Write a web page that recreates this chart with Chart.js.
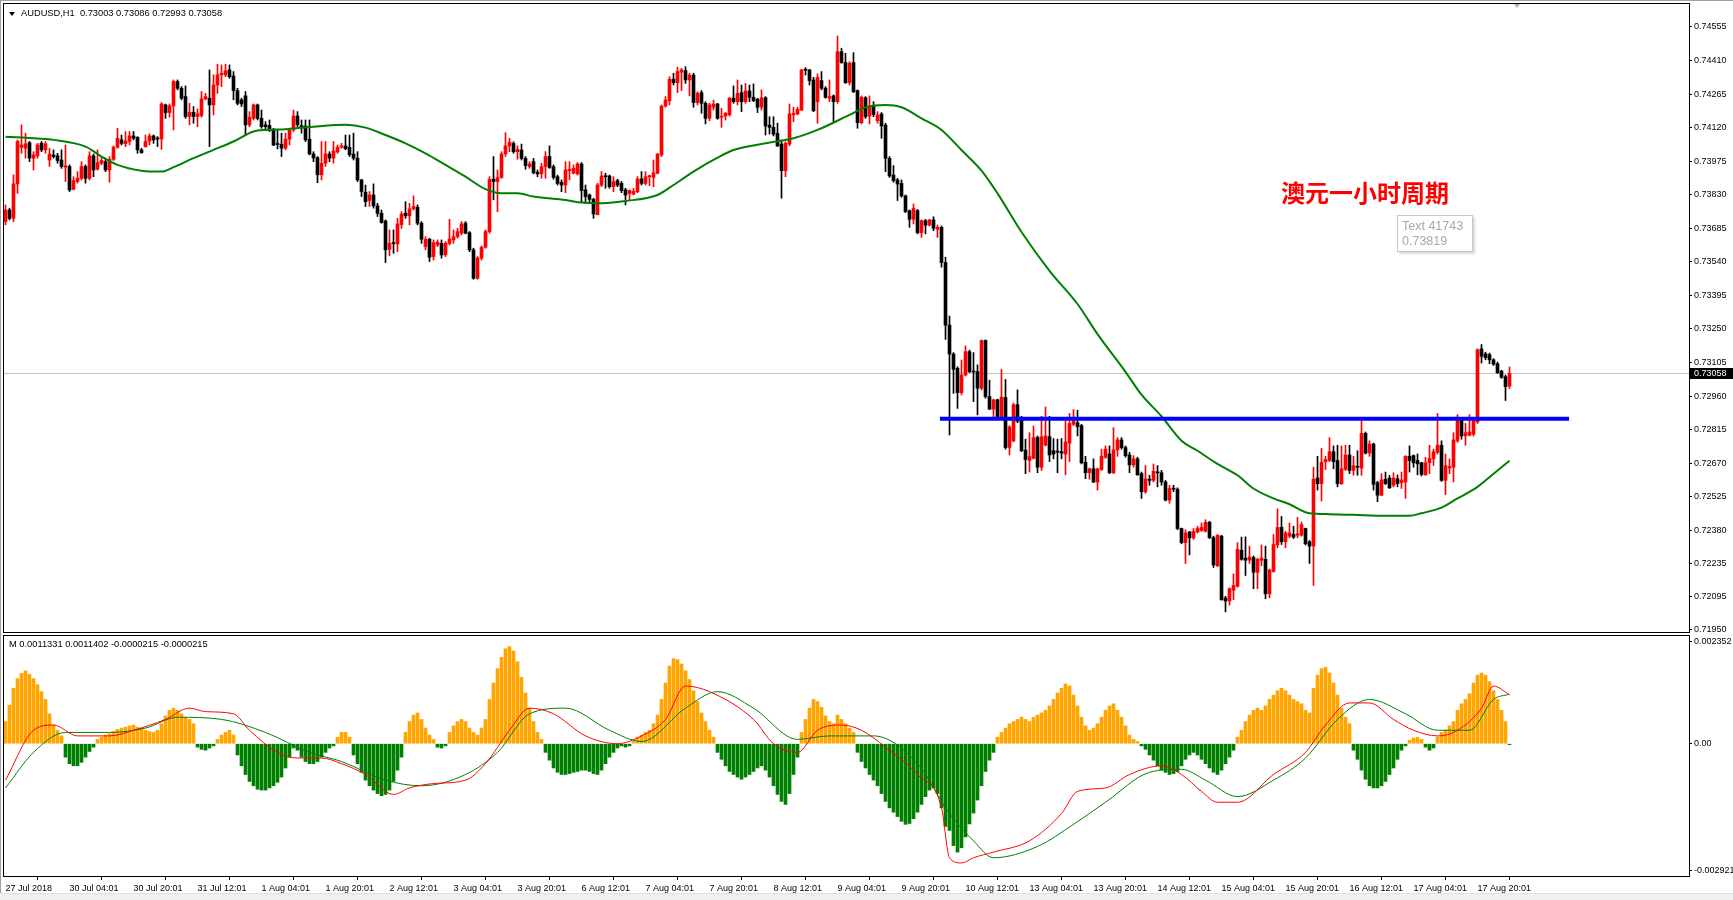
<!DOCTYPE html>
<html lang="zh">
<head>
  <meta charset="UTF-8">
  <title>AUDUSD,H1</title>
  <script src="https://cdn.jsdelivr.net/npm/chart.js@4"></script>
  <style>
    html, body { margin: 0; padding: 0; background: #fff; }
    #wrap { position: relative; width: 1733px; height: 900px; overflow: hidden; background: #fff; }
    canvas { position: absolute; left: 0; }
    #main { top: 0; }
    #ind { top: 633px; }
    .txt { position: absolute; font: 9.3px "Liberation Sans", Arial, sans-serif; color: #000; white-space: pre; line-height: 10px; }
    #foot { position: absolute; left: 0; top: 893px; width: 1733px; height: 7px; background: #f0f0f0; border-top: 1px solid #e0e0e0; }
    #edgeTop { position: absolute; left: 0; top: 0; width: 1733px; height: 1px; background: #a0a0a0; }
    #edgeLeft { position: absolute; left: 0; top: 0; width: 1px; height: 893px; background: #a0a0a0; }
    .tri { position: absolute; width: 0; height: 0; border-left: 3px solid transparent; border-right: 3px solid transparent; }
    #title { position: absolute; left: 1281px; top: 178px; font: bold 24px "Noto Sans CJK SC", sans-serif; color: #ff0000; line-height: 28px; }
    #tbox { position: absolute; left: 1397px; top: 215px; width: 70px; height: 32px; border: 1px solid #c8c8c8; background: #fff;
            box-shadow: 2px 2px 2px rgba(0,0,0,0.15); font: 12.5px "Liberation Sans", Arial, sans-serif; color: #a8a8a8;
            line-height: 15px; padding: 3px 0 0 4px; }
  </style>
</head>
<body>
<div id="wrap">
  <canvas id="main" width="1733" height="633"></canvas>
  <canvas id="ind" width="1733" height="260"></canvas>
  <div id="edgeTop"></div>
  <div id="edgeLeft"></div>
  <div id="foot"></div>
  <div class="tri" style="left:9px;top:12px;border-top:4px solid #000;"></div>
  <div class="txt" style="left:21px;top:8px;">AUDUSD,H1  0.73003 0.73086 0.72993 0.73058</div>
  <div class="tri" style="left:1514px;top:4px;border-top:4px solid #b0b0b0;"></div>
  <div class="txt" style="left:9px;top:639px;">M 0.0011331 0.0011402 -0.0000215 -0.0000215</div>
  <div id="title">澳元一小时周期</div>
  <div id="tbox">Text 41743<br>0.73819</div>
</div>

<script>
// AUDUSD H1 candles, one value per bar (27 Jul 12:00 onwards)
const openP = [
  0.73714,0.73764,0.73728,0.73877,0.74035,0.74031,0.74055,0.73988,0.73998,0.74052,
  0.74024,0.73980,0.74002,0.73998,0.73980,0.73949,0.73952,0.73854,0.73887,0.73901,
  0.73952,0.73901,0.73998,0.73940,0.73966,0.73973,0.73937,0.73983,0.74035,0.74067,
  0.74050,0.74060,0.74084,0.74078,0.74024,0.74038,0.74062,0.74084,0.74073,0.74071,
  0.74218,0.74185,0.74214,0.74319,0.74290,0.74254,0.74168,0.74186,0.74168,0.74172,
  0.74244,0.74247,0.74218,0.74304,0.74348,0.74348,0.74369,0.74343,0.74280,0.74240,
  0.74257,0.74132,0.74160,0.74218,0.74160,0.74132,0.74129,0.74110,0.74048,0.74048,
  0.74031,0.74070,0.74110,0.74170,0.74127,0.74127,0.74070,0.74006,0.73990,0.73916,
  0.73966,0.74006,0.73988,0.74015,0.74035,0.74041,0.74035,0.74006,0.73988,0.73894,
  0.73841,0.73805,0.73829,0.73782,0.73750,0.73717,0.73594,0.73620,0.73617,0.73701,
  0.73750,0.73739,0.73769,0.73776,0.73707,0.73606,0.73638,0.73563,0.73613,0.73620,
  0.73570,0.73620,0.73635,0.73649,0.73664,0.73707,0.73666,0.73592,0.73469,0.73556,
  0.73603,0.73671,0.73897,0.73887,0.73905,0.74006,0.74041,0.74052,0.74016,0.74023,
  0.73987,0.73951,0.73973,0.73927,0.73920,0.73951,0.73995,0.73951,0.73908,0.73884,
  0.73872,0.73934,0.73923,0.73920,0.73963,0.73851,0.73829,0.73810,0.73744,0.73872,
  0.73911,0.73911,0.73865,0.73891,0.73879,0.73851,0.73836,0.73833,0.73843,0.73898,
  0.73879,0.73908,0.73905,0.73923,0.74002,0.74213,0.74236,0.74329,0.74314,0.74359,
  0.74366,0.74326,0.74347,0.74228,0.74271,0.74225,0.74160,0.74208,0.74222,0.74165,
  0.74170,0.74175,0.74247,0.74232,0.74271,0.74232,0.74278,0.74251,0.74242,0.74208,
  0.74249,0.74131,0.74121,0.74095,0.74049,0.73934,0.74049,0.74175,0.74179,0.74196,
  0.74369,0.74369,0.74326,0.74232,0.74323,0.74290,0.74247,0.74257,0.74232,0.74448,
  0.74401,0.74314,0.74401,0.74280,0.74141,0.74249,0.74170,0.74213,0.74150,0.74179,
  0.74131,0.73987,0.73915,0.73894,0.73879,0.73825,0.73761,0.73724,0.73761,0.73666,
  0.73718,0.73699,0.73721,0.73681,0.73689,0.73537,0.73267,0.73142,0.73080,0.72975,
  0.73051,0.73152,0.73066,0.73066,0.72994,0.73200,0.72958,0.72904,0.72944,0.72866,
  0.72954,0.72738,0.72767,0.72923,0.72866,0.72727,0.72682,0.72691,0.72781,0.72653,
  0.72748,0.72785,0.72724,0.72720,0.72720,0.72710,0.72757,0.72838,0.72845,0.72833,
  0.72674,0.72629,0.72646,0.72589,0.72643,0.72696,0.72710,0.72629,0.72728,0.72771,
  0.72738,0.72706,0.72663,0.72689,0.72625,0.72547,0.72601,0.72596,0.72632,0.72629,
  0.72589,0.72511,0.72561,0.72558,0.72388,0.72327,0.72373,0.72348,0.72373,0.72379,
  0.72376,0.72415,0.72348,0.72227,0.72355,0.72088,0.72075,0.72121,0.72138,0.72294,
  0.72260,0.72251,0.72263,0.72199,0.72251,0.72255,0.72106,0.72203,0.72317,0.72393,
  0.72331,0.72355,0.72362,0.72359,0.72359,0.72388,0.72331,0.72312,0.72606,0.72582,
  0.72677,0.72682,0.72720,0.72682,0.72582,0.72643,0.72706,0.72639,0.72655,0.72649,
  0.72799,0.72714,0.72753,0.72586,0.72532,0.72601,0.72606,0.72575,0.72603,0.72586,
  0.72589,0.72700,0.72703,0.72682,0.72672,0.72620,0.72672,0.72689,0.72717,0.72748,
  0.72596,0.72649,0.72653,0.72767,0.72862,0.72788,0.72791,0.72795,0.72848,0.73164,
  0.73143,0.73139,0.73117,0.73100,0.73068,0.73044,0.73003
];
const highP = [
  0.73786,0.73772,0.73916,0.74067,0.74132,0.74096,0.74060,0.74016,0.74052,0.74060,
  0.74060,0.74031,0.74024,0.74009,0.74024,0.74045,0.73959,0.73908,0.73930,0.73973,
  0.73959,0.74016,0.74006,0.74024,0.73995,0.73988,0.73995,0.74041,0.74117,0.74088,
  0.74103,0.74103,0.74103,0.74081,0.74031,0.74088,0.74093,0.74088,0.74081,0.74228,
  0.74222,0.74222,0.74326,0.74326,0.74297,0.74300,0.74225,0.74211,0.74201,0.74276,
  0.74268,0.74369,0.74348,0.74394,0.74391,0.74394,0.74391,0.74362,0.74290,0.74247,
  0.74276,0.74189,0.74222,0.74222,0.74196,0.74146,0.74153,0.74117,0.74110,0.74096,
  0.74096,0.74117,0.74196,0.74189,0.74153,0.74153,0.74153,0.74016,0.73995,0.74060,
  0.74060,0.74016,0.74060,0.74045,0.74052,0.74088,0.74088,0.74096,0.74016,0.73897,
  0.73872,0.73844,0.73877,0.73793,0.73764,0.73721,0.73678,0.73678,0.73728,0.73757,
  0.73800,0.73793,0.73825,0.73786,0.73714,0.73649,0.73642,0.73635,0.73635,0.73635,
  0.73628,0.73724,0.73678,0.73685,0.73714,0.73714,0.73671,0.73599,0.73563,0.73609,
  0.73678,0.73908,0.73995,0.73937,0.74016,0.74098,0.74074,0.74059,0.74041,0.74049,
  0.73995,0.73973,0.73987,0.73937,0.73966,0.74016,0.74041,0.73959,0.73915,0.73894,
  0.73973,0.73973,0.73959,0.73969,0.73969,0.73872,0.73833,0.73815,0.73879,0.73930,
  0.73923,0.73915,0.73908,0.73897,0.73887,0.73858,0.73851,0.73858,0.73908,0.73930,
  0.73930,0.73915,0.73980,0.74009,0.74218,0.74254,0.74340,0.74355,0.74381,0.74376,
  0.74383,0.74355,0.74355,0.74275,0.74280,0.74232,0.74225,0.74239,0.74225,0.74203,
  0.74185,0.74251,0.74300,0.74326,0.74304,0.74311,0.74304,0.74309,0.74247,0.74283,
  0.74254,0.74167,0.74167,0.74139,0.74067,0.74059,0.74222,0.74208,0.74208,0.74372,
  0.74379,0.74372,0.74337,0.74352,0.74362,0.74297,0.74326,0.74261,0.74516,0.74463,
  0.74441,0.74405,0.74444,0.74283,0.74257,0.74254,0.74257,0.74232,0.74189,0.74185,
  0.74139,0.73995,0.73956,0.73901,0.73894,0.73829,0.73764,0.73790,0.73767,0.73721,
  0.73724,0.73724,0.73735,0.73699,0.73695,0.73560,0.73306,0.73148,0.73087,0.73116,
  0.73177,0.73159,0.73148,0.73095,0.73203,0.73203,0.73029,0.72947,0.72947,0.73075,
  0.73032,0.72833,0.72930,0.72987,0.72873,0.72774,0.72802,0.72831,0.72788,0.72873,
  0.72913,0.72873,0.72777,0.72774,0.72777,0.72866,0.72885,0.72902,0.72899,0.72838,
  0.72700,0.72649,0.72689,0.72649,0.72731,0.72745,0.72745,0.72824,0.72781,0.72781,
  0.72745,0.72717,0.72703,0.72696,0.72632,0.72660,0.72618,0.72667,0.72660,0.72639,
  0.72596,0.72575,0.72575,0.72564,0.72390,0.72383,0.72376,0.72388,0.72398,0.72412,
  0.72426,0.72419,0.72355,0.72362,0.72359,0.72095,0.72132,0.72192,0.72327,0.72351,
  0.72352,0.72312,0.72270,0.72260,0.72317,0.72312,0.72213,0.72362,0.72473,0.72440,
  0.72376,0.72412,0.72398,0.72436,0.72416,0.72390,0.72336,0.72653,0.72700,0.72734,
  0.72700,0.72781,0.72745,0.72748,0.72745,0.72748,0.72748,0.72700,0.72724,0.72862,
  0.72805,0.72767,0.72757,0.72592,0.72625,0.72632,0.72618,0.72629,0.72620,0.72632,
  0.72703,0.72745,0.72706,0.72710,0.72674,0.72696,0.72748,0.72731,0.72885,0.72767,
  0.72710,0.72689,0.72802,0.72880,0.72866,0.72842,0.72880,0.72859,0.73164,0.73183,
  0.73150,0.73146,0.73122,0.73107,0.73072,0.73051,0.73086
];
const lowP = [
  0.73700,0.73721,0.73714,0.73836,0.74009,0.73988,0.73973,0.73937,0.73988,0.74016,
  0.74009,0.73952,0.73988,0.73966,0.73944,0.73887,0.73844,0.73851,0.73880,0.73894,
  0.73880,0.73894,0.73908,0.73937,0.73959,0.73930,0.73884,0.73978,0.74031,0.74045,
  0.74038,0.74045,0.74067,0.74009,0.74009,0.74035,0.74045,0.74052,0.74038,0.74026,
  0.74160,0.74165,0.74110,0.74283,0.74240,0.74160,0.74132,0.74139,0.74124,0.74165,
  0.74240,0.74038,0.74175,0.74268,0.74297,0.74340,0.74333,0.74240,0.74218,0.74211,
  0.74088,0.74124,0.74153,0.74153,0.74117,0.74110,0.74103,0.74042,0.74028,0.73995,
  0.74024,0.74045,0.74103,0.74122,0.74096,0.74060,0.74002,0.73973,0.73882,0.73894,
  0.73952,0.73973,0.73966,0.74009,0.74031,0.74024,0.73995,0.73980,0.73887,0.73822,
  0.73779,0.73779,0.73772,0.73736,0.73707,0.73537,0.73566,0.73577,0.73584,0.73685,
  0.73728,0.73700,0.73764,0.73700,0.73620,0.73592,0.73541,0.73548,0.73606,0.73556,
  0.73563,0.73613,0.73620,0.73642,0.73656,0.73661,0.73584,0.73465,0.73465,0.73548,
  0.73599,0.73664,0.73808,0.73757,0.73901,0.73995,0.74016,0.74009,0.73983,0.73980,
  0.73940,0.73944,0.73920,0.73908,0.73901,0.73901,0.73944,0.73897,0.73872,0.73843,
  0.73839,0.73894,0.73920,0.73915,0.73800,0.73793,0.73796,0.73728,0.73743,0.73865,
  0.73858,0.73858,0.73843,0.73865,0.73839,0.73786,0.73807,0.73829,0.73839,0.73872,
  0.73872,0.73869,0.73865,0.73920,0.73995,0.74208,0.74218,0.74304,0.74271,0.74280,
  0.74311,0.74257,0.74208,0.74218,0.74182,0.74136,0.74150,0.74196,0.74156,0.74121,
  0.74153,0.74170,0.74225,0.74218,0.74189,0.74225,0.74232,0.74232,0.74185,0.74196,
  0.74088,0.74092,0.74084,0.74038,0.73815,0.73908,0.74041,0.74146,0.74175,0.74193,
  0.74347,0.74304,0.74189,0.74139,0.74283,0.74247,0.74232,0.74141,0.74225,0.74398,
  0.74311,0.74304,0.74271,0.74117,0.74136,0.74160,0.74136,0.74167,0.74139,0.74074,
  0.73930,0.73905,0.73884,0.73805,0.73819,0.73753,0.73689,0.73704,0.73661,0.73646,
  0.73661,0.73695,0.73675,0.73646,0.73517,0.73205,0.72792,0.72972,0.72907,0.72965,
  0.73047,0.73061,0.72936,0.72879,0.72987,0.72951,0.72902,0.72859,0.72859,0.72859,
  0.72731,0.72706,0.72762,0.72845,0.72720,0.72625,0.72632,0.72689,0.72629,0.72639,
  0.72745,0.72677,0.72689,0.72629,0.72689,0.72620,0.72677,0.72833,0.72788,0.72667,
  0.72603,0.72601,0.72586,0.72554,0.72639,0.72691,0.72625,0.72625,0.72700,0.72731,
  0.72696,0.72629,0.72653,0.72618,0.72518,0.72540,0.72575,0.72589,0.72568,0.72575,
  0.72507,0.72497,0.72547,0.72383,0.72322,0.72237,0.72274,0.72341,0.72369,0.72376,
  0.72373,0.72345,0.72220,0.72223,0.72078,0.72028,0.72057,0.72081,0.72135,0.72251,
  0.72185,0.72237,0.72128,0.72128,0.72227,0.72085,0.72089,0.72199,0.72305,0.72319,
  0.72305,0.72348,0.72345,0.72348,0.72355,0.72317,0.72237,0.72142,0.72554,0.72507,
  0.72643,0.72677,0.72646,0.72568,0.72578,0.72639,0.72625,0.72618,0.72618,0.72618,
  0.72710,0.72700,0.72554,0.72504,0.72530,0.72578,0.72561,0.72568,0.72568,0.72561,
  0.72518,0.72632,0.72653,0.72620,0.72615,0.72618,0.72625,0.72660,0.72710,0.72592,
  0.72535,0.72625,0.72589,0.72760,0.72774,0.72748,0.72788,0.72788,0.72842,0.73103,
  0.73117,0.73100,0.73093,0.73058,0.73037,0.72941,0.72993
];
const closeP = [
  0.73764,0.73728,0.73877,0.74060,0.74045,0.74050,0.73988,0.74002,0.74045,0.74024,
  0.74050,0.74006,0.73995,0.73978,0.73952,0.73955,0.73851,0.73891,0.73901,0.73952,
  0.73901,0.73998,0.73937,0.73969,0.73978,0.73937,0.73983,0.74035,0.74074,0.74052,
  0.74062,0.74084,0.74074,0.74024,0.74012,0.74060,0.74084,0.74067,0.74071,0.74222,
  0.74185,0.74214,0.74319,0.74290,0.74247,0.74168,0.74186,0.74168,0.74179,0.74244,
  0.74254,0.74218,0.74304,0.74348,0.74355,0.74365,0.74340,0.74280,0.74225,0.74222,
  0.74132,0.74165,0.74218,0.74160,0.74124,0.74124,0.74107,0.74045,0.74047,0.74031,
  0.74070,0.74110,0.74170,0.74132,0.74124,0.74067,0.74006,0.73989,0.73916,0.73966,
  0.74006,0.73988,0.74019,0.74035,0.74041,0.74029,0.74003,0.73988,0.73894,0.73844,
  0.73800,0.73829,0.73782,0.73750,0.73710,0.73592,0.73620,0.73619,0.73704,0.73747,
  0.73739,0.73769,0.73779,0.73707,0.73638,0.73638,0.73560,0.73623,0.73625,0.73570,
  0.73620,0.73639,0.73649,0.73671,0.73704,0.73664,0.73592,0.73469,0.73556,0.73603,
  0.73671,0.73897,0.73887,0.73904,0.74006,0.74041,0.74057,0.74016,0.74026,0.73987,
  0.73956,0.73963,0.73925,0.73920,0.73951,0.73995,0.73948,0.73905,0.73879,0.73872,
  0.73937,0.73940,0.73944,0.73963,0.73848,0.73822,0.73810,0.73747,0.73872,0.73911,
  0.73908,0.73865,0.73887,0.73872,0.73848,0.73829,0.73848,0.73845,0.73898,0.73879,
  0.73908,0.73911,0.73925,0.74005,0.74213,0.74239,0.74329,0.74314,0.74362,0.74369,
  0.74326,0.74347,0.74228,0.74268,0.74225,0.74160,0.74218,0.74222,0.74160,0.74167,
  0.74182,0.74247,0.74232,0.74268,0.74232,0.74278,0.74251,0.74237,0.74208,0.74249,
  0.74127,0.74121,0.74092,0.74041,0.73934,0.74052,0.74179,0.74182,0.74199,0.74369,
  0.74368,0.74323,0.74193,0.74337,0.74290,0.74251,0.74254,0.74232,0.74448,0.74401,
  0.74314,0.74398,0.74275,0.74141,0.74251,0.74167,0.74213,0.74177,0.74175,0.74127,
  0.73987,0.73911,0.73891,0.73876,0.73825,0.73757,0.73724,0.73771,0.73666,0.73718,
  0.73699,0.73721,0.73685,0.73689,0.73537,0.73267,0.73142,0.73076,0.72975,0.73051,
  0.73152,0.73066,0.73064,0.72994,0.73200,0.72958,0.72904,0.72944,0.72866,0.72956,
  0.72738,0.72826,0.72923,0.72852,0.72724,0.72686,0.72699,0.72781,0.72653,0.72785,
  0.72788,0.72706,0.72710,0.72718,0.72714,0.72762,0.72842,0.72862,0.72828,0.72672,
  0.72629,0.72646,0.72589,0.72646,0.72700,0.72731,0.72629,0.72728,0.72771,0.72738,
  0.72703,0.72663,0.72689,0.72620,0.72547,0.72603,0.72596,0.72635,0.72629,0.72589,
  0.72511,0.72561,0.72558,0.72388,0.72327,0.72369,0.72348,0.72376,0.72388,0.72393,
  0.72415,0.72348,0.72231,0.72359,0.72081,0.72075,0.72128,0.72142,0.72298,0.72255,
  0.72251,0.72265,0.72199,0.72255,0.72260,0.72106,0.72209,0.72319,0.72393,0.72331,
  0.72369,0.72369,0.72351,0.72365,0.72405,0.72322,0.72312,0.72601,0.72582,0.72674,
  0.72686,0.72720,0.72677,0.72582,0.72646,0.72706,0.72639,0.72660,0.72653,0.72799,
  0.72714,0.72753,0.72579,0.72532,0.72598,0.72582,0.72564,0.72606,0.72582,0.72598,
  0.72700,0.72682,0.72672,0.72667,0.72622,0.72672,0.72691,0.72720,0.72748,0.72596,
  0.72660,0.72656,0.72771,0.72859,0.72788,0.72802,0.72805,0.72852,0.73160,0.73132,
  0.73126,0.73117,0.73098,0.73061,0.73041,0.73001,0.73058
];

// moving average (bar index, price)
const maIdx = [0,8,12,20,24,28,34,39,42,47,52,57,62,65,70,77,85,90,95,100,105,110,115,120,124,128,132,140,144,148,
  155,163,167,172,178,182,190,197,203,211,215,220,224,229,234,239,244,248,254,261,268,273,280,284,289,294,298,303,308,312,
  317,321,326,331,337,345,351,354,359,363,368,373,376];
const maVal = [0.74081,0.74073,0.74067,0.74038,0.73995,0.73959,0.73934,0.73930,0.73949,0.73988,
  0.74024,0.74060,0.74103,0.74110,0.74113,0.74124,0.74132,0.74120,0.74088,0.74052,
  0.74009,0.73959,0.73908,0.73854,0.73836,0.73836,0.73822,0.73807,0.73796,0.73793,
  0.73803,0.73829,0.73872,0.73930,0.73990,0.74023,0.74052,0.74074,0.74110,0.74175,
  0.74208,0.74218,0.74208,0.74160,0.74110,0.74023,0.73934,0.73836,0.73669,0.73501,
  0.73358,0.73228,0.73065,0.72966,0.72873,0.72767,0.72724,0.72667,0.72618,0.72561,
  0.72518,0.72493,0.72454,0.72450,0.72447,0.72443,0.72443,0.72454,0.72478,0.72518,
  0.72568,0.72639,0.72681];

// blue support line
const levelPrice = 0.72862;
const levelFrom = 233.6, levelTo = 390.9;

// lower window "M": histogram per bar + two signal lines
const momHist = [
  0.00051,0.00089,0.00128,0.00150,0.00162,0.00168,0.00160,0.00150,0.00136,0.00120,
  0.00102,0.00069,0.00043,0.00031,0.00018,-0.00031,-0.00046,-0.00051,-0.00051,-0.00043,
  -0.00031,-0.00018,-0.00008,0.00010,0.00015,0.00020,0.00023,0.00028,0.00033,0.00036,
  0.00038,0.00041,0.00043,0.00038,0.00036,0.00031,0.00028,0.00026,0.00031,0.00046,
  0.00064,0.00077,0.00082,0.00077,0.00069,0.00061,0.00056,0.00046,-0.00008,-0.00013,
  -0.00015,-0.00010,-0.00005,0.00010,0.00020,0.00026,0.00031,0.00020,-0.00026,-0.00051,
  -0.00071,-0.00087,-0.00097,-0.00105,-0.00107,-0.00107,-0.00102,-0.00097,-0.00089,-0.00077,
  -0.00056,-0.00031,-0.00010,-0.00015,-0.00031,-0.00041,-0.00046,-0.00046,-0.00041,-0.00031,
  -0.00020,-0.00010,-0.00005,0.00015,0.00026,0.00026,0.00015,-0.00026,-0.00046,-0.00066,
  -0.00084,-0.00097,-0.00107,-0.00115,-0.00120,-0.00117,-0.00107,-0.00087,-0.00061,-0.00031,
  0.00026,0.00051,0.00066,0.00071,0.00056,0.00036,0.00020,0.00010,-0.00008,-0.00010,
  -0.00005,0.00026,0.00041,0.00051,0.00056,0.00051,0.00036,0.00026,0.00020,0.00036,
  0.00056,0.00102,0.00140,0.00173,0.00199,0.00219,0.00224,0.00214,0.00189,0.00153,
  0.00117,0.00082,0.00051,0.00026,0.00010,-0.00020,-0.00038,-0.00056,-0.00066,-0.00071,
  -0.00071,-0.00069,-0.00066,-0.00064,-0.00061,-0.00061,-0.00064,-0.00069,-0.00071,-0.00061,
  -0.00046,-0.00031,-0.00020,-0.00010,-0.00005,-0.00008,-0.00005,0.00005,0.00015,0.00020,
  0.00026,0.00031,0.00046,0.00066,0.00102,0.00140,0.00179,0.00196,0.00194,0.00184,
  0.00168,0.00148,0.00122,0.00097,0.00071,0.00051,0.00031,0.00015,-0.00020,-0.00036,
  -0.00051,-0.00064,-0.00071,-0.00077,-0.00082,-0.00077,-0.00071,-0.00064,-0.00056,-0.00051,
  -0.00061,-0.00077,-0.00097,-0.00117,-0.00133,-0.00140,-0.00115,-0.00071,-0.00031,0.00026,
  0.00056,0.00082,0.00102,0.00097,0.00084,0.00064,0.00051,0.00046,0.00066,0.00056,
  0.00046,0.00036,0.00026,-0.00020,-0.00041,-0.00056,-0.00071,-0.00084,-0.00097,-0.00115,
  -0.00133,-0.00148,-0.00158,-0.00168,-0.00179,-0.00186,-0.00184,-0.00173,-0.00158,-0.00140,
  -0.00122,-0.00107,-0.00102,-0.00115,-0.00148,-0.00191,-0.00200,-0.00235,-0.00250,-0.00240,
  -0.00215,-0.00185,-0.00160,-0.00130,-0.00097,-0.00064,-0.00038,-0.00020,0.00015,0.00026,
  0.00036,0.00046,0.00051,0.00056,0.00061,0.00056,0.00051,0.00061,0.00066,0.00071,
  0.00077,0.00087,0.00102,0.00117,0.00128,0.00138,0.00133,0.00112,0.00087,0.00061,
  0.00041,0.00031,0.00036,0.00046,0.00061,0.00077,0.00087,0.00092,0.00077,0.00061,
  0.00041,0.00020,0.00010,0.00005,-0.00005,-0.00013,-0.00026,-0.00038,-0.00051,-0.00061,
  -0.00066,-0.00071,-0.00069,-0.00064,-0.00051,-0.00036,-0.00026,-0.00020,-0.00026,-0.00036,
  -0.00046,-0.00056,-0.00066,-0.00071,-0.00061,-0.00046,-0.00031,-0.00015,0.00015,0.00031,
  0.00051,0.00066,0.00077,0.00082,0.00077,0.00087,0.00102,0.00112,0.00122,0.00128,
  0.00122,0.00112,0.00102,0.00097,0.00092,0.00077,0.00071,0.00128,0.00158,0.00173,
  0.00176,0.00163,0.00140,0.00112,0.00082,0.00061,0.00046,-0.00015,-0.00036,-0.00061,
  -0.00082,-0.00097,-0.00102,-0.00102,-0.00097,-0.00087,-0.00071,-0.00056,-0.00036,-0.00015,
  -0.00005,0.00008,0.00013,0.00015,0.00010,-0.00008,-0.00015,-0.00010,0.00015,0.00026,
  0.00031,0.00041,0.00051,0.00077,0.00092,0.00102,0.00115,0.00140,0.00158,0.00163,
  0.00158,0.00143,0.00122,0.00102,0.00077,0.00051,-0.0000215
];
const redIdx = [0,7,12,18,26,32,40,46,50,57,61,68,73,79,84,90,97,101,107,115,120,126,131,137,145,153,159,165,170,176,
  187,192,198,203,209,214,220,228,234,236,239,242,247,256,264,268,275,281,289,294,299,303,308,317,325,330,336,341,347,352,
  358,363,369,372,376];
const redVal = [-0.00084,0.00031,0.00043,0.00018,0.00018,0.00031,0.00056,0.00082,0.00074,0.00069,
  0.00031,-0.00020,-0.00033,-0.00033,-0.00046,-0.00071,-0.00117,-0.00102,-0.00092,-0.00084,
  -0.00046,0.00031,0.00082,0.00069,0.00018,0.00000,0.00018,0.00056,0.00133,0.00120,
  0.00056,0.00000,-0.00020,0.00031,0.00043,0.00031,-0.00008,-0.00071,-0.00148,-0.00263,
  -0.00275,-0.00263,-0.00250,-0.00224,-0.00161,-0.00110,-0.00102,-0.00071,-0.00051,-0.00071,
  -0.00110,-0.00135,-0.00135,-0.00071,-0.00020,0.00043,0.00094,0.00094,0.00056,0.00031,
  0.00018,0.00031,0.00082,0.00133,0.00113];
const grnIdx = [0,7,15,26,35,43,54,65,76,84,95,104,115,123,131,140,151,159,170,178,187,198,206,217,228,236,242,247,258,267,
  275,286,294,300,308,317,325,333,341,350,358,366,372,376];
const grnVal = [-0.00102,-0.00020,0.00026,0.00026,0.00036,0.00061,0.00056,0.00026,-0.00020,-0.00041,
  -0.00084,-0.00097,-0.00071,-0.00020,0.00069,0.00082,0.00031,0.00005,0.00082,0.00120,
  0.00082,0.00010,0.00018,0.00018,-0.00046,-0.00161,-0.00224,-0.00263,-0.00237,-0.00186,
  -0.00135,-0.00066,-0.00059,-0.00084,-0.00122,-0.00084,-0.00033,0.00056,0.00102,0.00069,
  0.00031,0.00031,0.00102,0.00114];

// axis labels
const priceTicks = [0.71950,0.72095,0.72235,0.72380,0.72525,0.72670,0.72815,0.72960,0.73105,0.73250,
  0.73395,0.73540,0.73685,0.73830,0.73975,0.74120,0.74265,0.74410,0.74555];
const indTicks = [0.002352, 0, -0.002921];
const indTickText = ['0.002352', '0.00', '-0.002921'];
const timeTickIdx = [0,16,32,48,64,80,96,112,128,144,160,176,192,208,224,240,256,272,288,304,320,336,352,368];
const timeTickText = ['27 Jul 2018','30 Jul 04:01','30 Jul 20:01','31 Jul 12:01','1 Aug 04:01','1 Aug 20:01',
  '2 Aug 12:01','3 Aug 04:01','3 Aug 20:01','6 Aug 12:01','7 Aug 04:01','7 Aug 20:01','8 Aug 12:01',
  '9 Aug 04:01','9 Aug 20:01','10 Aug 12:01','13 Aug 04:01','13 Aug 20:01','14 Aug 12:01','15 Aug 04:01',
  '15 Aug 20:01','16 Aug 12:01','17 Aug 04:01','17 Aug 20:01'];

Chart.defaults.font.family = '"Liberation Sans", Arial, sans-serif';
Chart.defaults.font.size = 9;
Chart.defaults.color = '#000';

const X_MIN = -0.375, X_MAX = 420.875;   // 4px per bar
const idx = closeP.map((_, i) => i);
const lastClose = closeP[closeP.length - 1];
const candleColor = closeP.map((c, i) => c > openP[i] ? '#ff0000' : '#000000');

// fixed axis boxes so the plot areas line up with the terminal layout
const fixY = s => { s.width = 44; s.paddingTop = 0; s.paddingBottom = 0; };
const fixX = s => { s.height = 17; s.paddingLeft = 0; s.paddingRight = 0; };

// black frame round each plot area
const framePlugin = {
  id: 'frame',
  afterDraw(chart) {
    const { ctx, chartArea: a } = chart;
    ctx.save();
    ctx.strokeStyle = '#000';
    ctx.lineWidth = 1;
    ctx.strokeRect(a.left - 0.5, a.top - 0.5, a.right - a.left + 1, a.bottom - a.top + 1);
    ctx.restore();
  }
};

// current price box on the price scale
const lastPricePlugin = {
  id: 'lastPrice',
  afterDraw(chart) {
    const { ctx } = chart;
    const y = Math.round(chart.scales.y.getPixelForValue(lastClose));
    ctx.save();
    ctx.fillStyle = '#000';
    ctx.fillRect(1690, y - 5, 43, 11);
    ctx.fillStyle = '#fff';
    ctx.font = '9px "Liberation Sans", Arial, sans-serif';
    ctx.textBaseline = 'middle';
    ctx.fillText(lastClose.toFixed(5), 1694, y + 0.5);
    ctx.restore();
  }
};

new Chart(document.getElementById('main'), {
  type: 'bar',
  data: {
    datasets: [
      { type: 'line', data: [{ x: levelFrom, y: levelPrice }, { x: levelTo, y: levelPrice }],
        borderColor: '#0000ff', borderWidth: 4, pointRadius: 0, order: 0 },
      { type: 'line', data: maIdx.map((x, k) => ({ x: x, y: maVal[k] })),
        borderColor: '#008000', borderWidth: 2, pointRadius: 0, cubicInterpolationMode: 'monotone', order: 1 },
      { type: 'bar', data: idx.map(i => ({ x: i, y: [openP[i], closeP[i]] })),
        backgroundColor: candleColor, barThickness: 3, minBarLength: 1, grouped: false, order: 2 },
      { type: 'bar', data: idx.map(i => ({ x: i, y: [lowP[i], highP[i]] })),
        backgroundColor: candleColor, barThickness: 1, grouped: false, order: 3 },
      { type: 'line', data: [{ x: X_MIN, y: lastClose }, { x: X_MAX, y: lastClose }],
        borderColor: '#c0c0c0', borderWidth: 1, pointRadius: 0, order: 4 }
    ]
  },
  options: {
    responsive: false, animation: false, devicePixelRatio: 1, events: [],
    layout: { padding: { left: 4, top: 4, right: 0, bottom: 1 } },
    plugins: { legend: { display: false }, tooltip: { enabled: false } },
    scales: {
      x: { type: 'linear', min: X_MIN, max: X_MAX, offset: false, display: false },
      y: {
        position: 'right', min: 0.71941, max: 0.74654,
        afterBuildTicks: s => { s.ticks = priceTicks.map(v => ({ value: v })); },
        afterFit: fixY,
        ticks: { padding: 2, color: '#000', callback: v => v.toFixed(5) },
        grid: { drawOnChartArea: false, tickLength: 3, color: '#000' },
        border: { color: '#000' }
      }
    }
  },
  plugins: [framePlugin, lastPricePlugin]
});

new Chart(document.getElementById('ind'), {
  type: 'bar',
  data: {
    datasets: [
      { type: 'line', data: redIdx.map((x, k) => ({ x: x, y: redVal[k] })),
        borderColor: '#ff0000', borderWidth: 1, pointRadius: 0, cubicInterpolationMode: 'monotone', order: 0 },
      { type: 'line', data: grnIdx.map((x, k) => ({ x: x, y: grnVal[k] })),
        borderColor: '#008000', borderWidth: 1, pointRadius: 0, cubicInterpolationMode: 'monotone', order: 1 },
      { type: 'bar', data: idx.map(i => ({ x: i, y: momHist[i] })),
        backgroundColor: momHist.map(v => v >= 0 ? '#ffa500' : '#008000'),
        barThickness: 3, grouped: false, order: 2 }
    ]
  },
  options: {
    responsive: false, animation: false, devicePixelRatio: 1, events: [],
    layout: { padding: { left: 4, top: 3, right: 0, bottom: 0 } },
    plugins: { legend: { display: false }, tooltip: { enabled: false } },
    scales: {
      x: {
        type: 'linear', min: X_MIN, max: X_MAX, offset: false,
        afterBuildTicks: s => { s.ticks = timeTickIdx.map(v => ({ value: v })); },
        afterFit: fixX,
        ticks: { align: 'start', autoSkip: false, maxRotation: 0, padding: 3, color: '#000',
                 callback: (v, k) => timeTickText[k] },
        grid: { drawOnChartArea: false, tickLength: 4, color: '#000' },
        border: { color: '#000' }
      },
      y: {
        position: 'right', min: -0.0030507, max: 0.0024835,
        afterBuildTicks: s => { s.ticks = indTicks.map(v => ({ value: v })); },
        afterFit: fixY,
        ticks: { padding: 2, color: '#000', callback: (v, k) => indTickText[k] },
        grid: { drawOnChartArea: false, tickLength: 3, color: '#000' },
        border: { color: '#000' }
      }
    }
  },
  plugins: [framePlugin]
});
</script>
</body>
</html>
